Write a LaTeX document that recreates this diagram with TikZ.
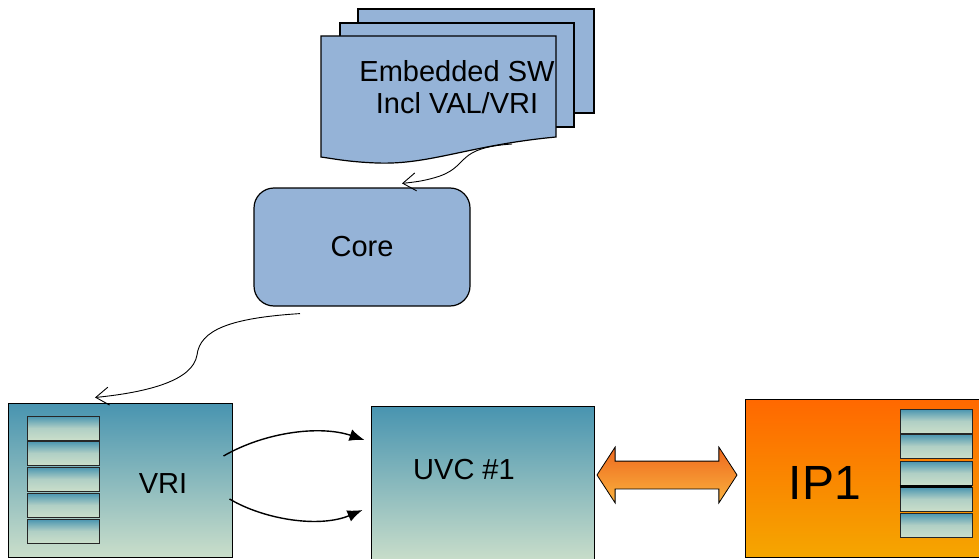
\documentclass[tikz,border=0pt]{standalone}
\usepackage{fontspec}
\setmainfont{Liberation Sans}
\usetikzlibrary{positioning,shapes.arrows,arrows.meta}

\definecolor{sheetblue}{RGB}{149,179,215}
\definecolor{tealtop}{RGB}{72,148,176}
\definecolor{palegreen}{RGB}{202,222,202}
\definecolor{ipred}{RGB}{255,104,0}
\definecolor{ipyellow}{RGB}{245,166,0}
\definecolor{linktop}{RGB}{238,104,30}
\definecolor{linkbot}{RGB}{250,178,62}

\tikzset{
  sheet/.style={draw=black, line width=1.2pt, fill=sheetblue},
  block/.style={draw=black, line width=1pt, top color=tealtop, bottom color=palegreen, inner sep=0pt},
  reg/.style={draw=black!85, line width=0.8pt, top color=tealtop, bottom color=palegreen,
    middle color=palegreen!80!tealtop, minimum width=72pt, minimum height=24pt, inner sep=0pt},
  lbl/.style={font=\fontsize{29}{32}\selectfont, inner sep=0pt, align=center},
  swoop/.style={line width=0.9pt, -{Straight Barb[length=13pt,width=18pt]}},
  bus/.style={line width=1.4pt, -{Latex[length=15pt,width=12pt]}}
}

\begin{document}
\begin{tikzpicture}[x=1pt,y=-1pt]
    \useasboundingbox (0,0) rectangle (979,559);

    % Embedded software sheets
    \draw[sheet] (358,9) rectangle (594,113);
    \draw[sheet] (340,23) rectangle (574,127);
    \draw[sheet] (321,36) -- (556,36) -- (556,137)
        .. controls (470,145) and (430,165) .. (377,163)
        .. controls (350,162) and (335,159) .. (321,157) -- cycle;
    \node[lbl] (doc) at (457,87) {Embedded SW\\Incl VAL/VRI};
    \coordinate (docend) at (512,144);

    % Core
    \node[sheet, rounded corners=20pt, minimum width=216pt, minimum height=118pt] (core) at (362,247) {};
    \node[lbl] (corelabel) at (core.center) {Core};

    % VRI with its registers
    \node[block, minimum width=224pt, minimum height=154pt] (vri) at (120,480) {};
    \foreach \y [count=\i] in {428,453,479,505,531}
        \node[reg] (vrireg\i) at (63,\y) {};
    \node[lbl] (vrilabel) at (163,484) {VRI};

    % UVC
    \node[block, minimum width=223pt, minimum height=156pt] (uvc) at (482.5,484) {};
    \node[lbl] (uvclabel) at (464,470) {UVC \#1};

    % IP1 with its registers
    \node[draw=black, line width=1pt, top color=ipred, bottom color=ipyellow, inner sep=0pt,
          minimum width=244pt, minimum height=158pt] (ip) at (867,478) {};
    \foreach \y [count=\i] in {421,446,473,499,525}
        \node[reg] (ipreg\i) at (936,\y) {};
    \draw[line width=3pt] (ipreg4.north west) -- (ipreg4.north east);
    \node[lbl, font=\fontsize{48}{52}\selectfont] (iplabel) at (825,483) {IP1};

    % Link between UVC and IP1
    \node[double arrow, draw=black, line width=0.8pt, top color=linktop, bottom color=linkbot,
          minimum height=140pt, inner xsep=0pt, inner ysep=13.5pt,
          double arrow head extend=14pt, double arrow tip angle=114] (link) at (667,475) {};

    % Connectors
    \draw[swoop] (docend) .. controls (455,148) and (470,165) .. (440,176)
        .. controls (425,181) and (415,182) .. ([shift={(40,-4)}]core.north);
    \draw[swoop] ([shift={(-62,7)}]core.south) .. controls (230,318) and (200,330) .. (197,355)
        .. controls (193,380) and (150,392) .. ([shift={(-25,-5)}]vri.north);
    \draw[bus] ([shift={(-9,-24)}]vri.east) .. controls (265,432) and (320,425) .. ([shift={(-6,-44)}]uvc.west);
    \draw[bus] ([shift={(-3,19)}]vri.east) .. controls (265,520) and (320,528) .. ([shift={(-8,26)}]uvc.west);
\end{tikzpicture}
\end{document}
